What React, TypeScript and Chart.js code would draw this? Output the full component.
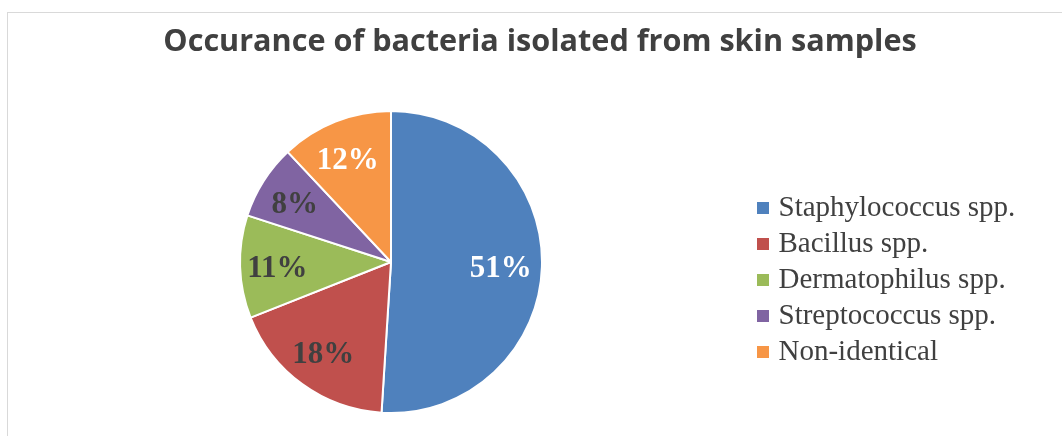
import React, { useEffect, useRef } from "react";
import { Chart, registerables } from "chart.js";

Chart.register(...registerables);

// ---- data ----
const categories = [
  "Staphylococcus spp.",
  "Bacillus spp.",
  "Dermatophilus spp.",
  "Streptococcus spp.",
  "Non-identical",
];
const percentages = [51, 18, 11, 8, 12];
const titleText = "Occurance of bacteria isolated from skin samples";

// ---- styles ----
const sliceColors = ["#4f81bd", "#c0504d", "#9bbb59", "#8064a2", "#f79646"];
const labelColors = ["#ffffff", "#404040", "#404040", "#404040", "#ffffff"];
const W = 1062;
const H = 436;
const TEXT_GRAY = "#404040";
const SERIF = '"Liberation Serif", "Times New Roman", serif';
const SANS = '"Open Sans", "Noto Sans", sans-serif';
const TITLE_SIZE = 30.6;
const TITLE_PAD_TOP = 26.5;
const LEGEND_SIZE = 29;
const LEGEND_PAD = 7;
const LEGEND_BOX_W = 2;
const LEGEND_LEFT = 755;
const PAD_LEFT = 27;
const TITLE_CENTER_X = 540;

const framePlugin = {
  id: "frame",
  beforeDraw(chart: any) {
    const ctx = chart.ctx;
    ctx.save();
    ctx.fillStyle = "#ffffff";
    ctx.fillRect(0, 0, W, H);
    ctx.strokeStyle = "#d9d9d9";
    ctx.lineWidth = 1;
    ctx.strokeRect(7.5, 12.5, W + 40, H + 40);
    ctx.restore();
  },
};

const titlePlacePlugin = {
  id: "titlePlace",
  afterLayout(chart: any) {
    const tb = chart.titleBlock;
    if (tb) {
      const w = tb.right - tb.left;
      tb.left = TITLE_CENTER_X - w / 2;
      tb.right = TITLE_CENTER_X + w / 2;
    }
  },
};

const pctLabelPlugin = {
  id: "pctLabels",
  afterDatasetsDraw(chart: any) {
    const meta = chart.getDatasetMeta(0);
    const ctx = chart.ctx;
    ctx.save();
    ctx.font = `bold 31px ${SERIF}`;
    ctx.textAlign = "center";
    ctx.textBaseline = "middle";
    meta.data.forEach((arc: any, i: number) => {
      const p = arc.getProps(["x", "y", "startAngle", "endAngle", "outerRadius"], true);
      const mid = (p.startAngle + p.endAngle) / 2;
      const r = p.outerRadius * 0.74;
      ctx.fillStyle = labelColors[i];
      ctx.fillText(`${percentages[i]}%`, p.x + Math.cos(mid) * r - 2, p.y + Math.sin(mid) * r + 3);
    });
    ctx.restore();
  },
};

export default function App() {
  const ref = useRef<HTMLCanvasElement | null>(null);

  useEffect(() => {
    document.body.style.margin = "0";
    const canvas = ref.current;
    if (!canvas) return;

    const mctx = document.createElement("canvas").getContext("2d")!;
    mctx.font = `${LEGEND_SIZE}px ${SERIF}`;
    const textW = Math.max(...categories.map((c) => mctx.measureText(c).width));
    const legendW = LEGEND_PAD + LEGEND_BOX_W + LEGEND_SIZE / 2 + textW + 10;
    const padRight = W - LEGEND_LEFT - legendW;

    const baseGen =
      (Chart as any).overrides?.pie?.plugins?.legend?.labels?.generateLabels ||
      (Chart as any).overrides.doughnut.plugins.legend.labels.generateLabels;

    const chart = new Chart(canvas, {
      type: "pie",
      data: {
        labels: categories,
        datasets: [
          {
            data: percentages,
            backgroundColor: sliceColors,
            borderColor: "#ffffff",
            borderWidth: 2,
            radius: 151,
          } as any,
        ],
      },
      options: {
        responsive: false,
        devicePixelRatio: 1,
        animation: false,
        layout: { padding: { top: 0, left: PAD_LEFT, right: padRight, bottom: 10 } },
        plugins: {
          tooltip: { enabled: false },
          title: {
            display: true,
            text: titleText,
            color: TEXT_GRAY,
            font: { family: SANS, size: TITLE_SIZE, weight: "bold", lineHeight: 1 },
            padding: { top: TITLE_PAD_TOP, bottom: 98 - TITLE_PAD_TOP - TITLE_SIZE },
          },
          legend: {
            display: true,
            position: "right",
            fullSize: false,
            align: "center",
            title: {
              display: true,
              text: "",
              padding: 0,
              font: { size: 36, lineHeight: 1 },
            },
            labels: {
              color: TEXT_GRAY,
              font: { family: SERIF, size: LEGEND_SIZE },
              usePointStyle: true,
              pointStyle: "rect",
              boxWidth: LEGEND_BOX_W,
              boxHeight: 12,
              padding: LEGEND_PAD,
              generateLabels: (c: any) =>
                baseGen(c).map((it: any) => ({
                  ...it,
                  lineWidth: 0,
                  strokeStyle: "rgba(0,0,0,0)",
                  fontColor: TEXT_GRAY,
                })),
            },
          },
        },
      } as any,
      plugins: [framePlugin, titlePlacePlugin, pctLabelPlugin],
    });

    return () => chart.destroy();
  }, []);

  return (
    <div style={{ position: "absolute", left: 0, top: 0, width: W, height: H }}>
      <canvas ref={ref} width={W} height={H} style={{ display: "block", width: W, height: H }} />
    </div>
  );
}
